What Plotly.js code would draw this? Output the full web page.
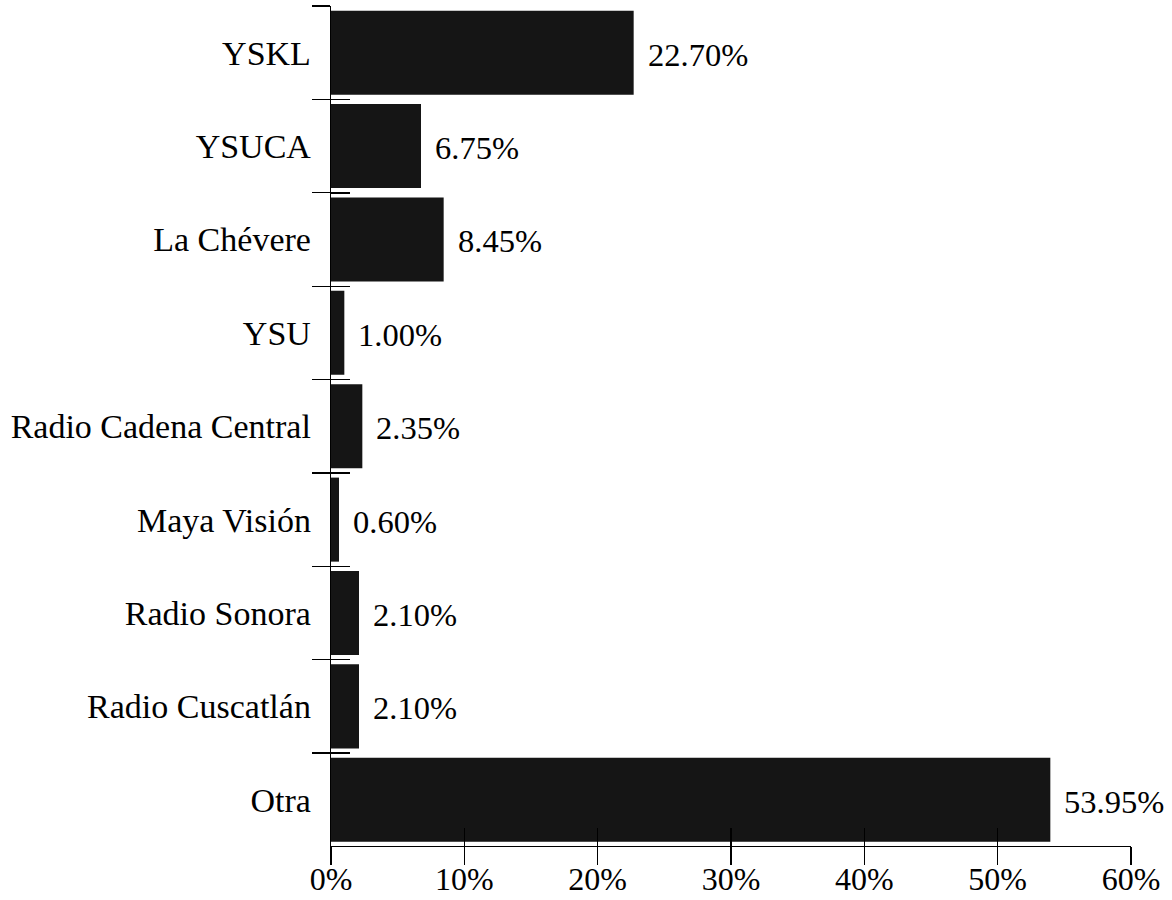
<!DOCTYPE html>
<html>
<head>
<meta charset="utf-8">
<script src="https://cdn.plot.ly/plotly-3.0.1.min.js"></script>
<style>html,body{margin:0;padding:0;background:#fff;}#chart{width:1172px;height:900px;}</style>
</head>
<body>
<div id="chart"></div>
<script>
const categories = ["YSKL", "YSUCA", "La Chévere", "YSU", "Radio Cadena Central", "Maya Visión", "Radio Sonora", "Radio Cuscatlán", "Otra"];
const values = [22.70, 6.75, 8.45, 1.00, 2.35, 0.60, 2.10, 2.10, 53.95];
const valueLabels = ["22.70%", "6.75%", "8.45%", "1.00%", "2.35%", "0.60%", "2.10%", "2.10%", "53.95%"];

const FAM = "Liberation Serif, Times New Roman, serif";
const FONT = {family: FAM, size: 32, color: "#000"};
const YFONT = {family: FAM, size: 34, color: "#000"};
const VFONT = {family: FAM, size: 32.5, color: "#000"};

const traces = [
  {
    type: "bar", orientation: "h",
    x: values, y: categories,
    marker: {color: "#151515", line: {width: 0}},
    width: 0.9,
    hoverinfo: "skip", showlegend: false
  },
  {
    type: "bar", orientation: "h",
    x: categories.map(() => 0), y: categories,
    xaxis: "x2", yaxis: "y2",
    marker: {color: "rgba(0,0,0,0)"},
    hoverinfo: "skip", showlegend: false
  }
];

const annotations = categories.map((c, i) => ({
  x: values[i], y: c, xref: "x", yref: "y",
  text: valueLabels[i], showarrow: false,
  xanchor: "left", yanchor: "middle", xshift: 12, yshift: -2,
  font: VFONT
}));

const yr = [8.495, -0.5];
const yr2 = [8.495, -0.503];

const layout = {
  width: 1172, height: 900,
  margin: {l: 331, r: 41, t: 6, b: 54},
  paper_bgcolor: "#fff", plot_bgcolor: "#fff",
  font: FONT,
  bargap: 0.1,
  showlegend: false,
  xaxis: {
    range: [0, 60], dtick: 10, tick0: 0, ticksuffix: "%",
    showgrid: false, zeroline: false,
    showline: true, linecolor: "#000", linewidth: 1.3,
    ticks: "outside", ticklen: 18, tickwidth: 1.3, tickcolor: "#000",
    tickfont: FONT, ticklabelstandoff: -14, fixedrange: true
  },
  xaxis2: {
    overlaying: "x", anchor: "y", side: "bottom",
    range: [0, 60], dtick: 10, tick0: 0,
    showgrid: false, zeroline: false, showline: false,
    ticks: "inside", ticklen: 18, tickwidth: 1.3, tickcolor: "#000",
    showticklabels: false, fixedrange: true
  },
  yaxis: {
    type: "category", categoryorder: "array", categoryarray: categories,
    range: yr,
    showgrid: false, zeroline: false,
    showline: true, linecolor: "#000", linewidth: 1.3,
    ticks: "outside", tickson: "boundaries", ticklen: 18, tickwidth: 1.3, tickcolor: "#000",
    tickfont: YFONT, ticklabelstandoff: 12, fixedrange: true
  },
  yaxis2: {
    overlaying: "y", anchor: "x", side: "left",
    type: "category", categoryorder: "array", categoryarray: categories,
    range: yr2,
    showgrid: false, zeroline: false, showline: false,
    ticks: "inside", tickson: "boundaries", ticklen: 19, tickwidth: 1.3, tickcolor: "#000",
    showticklabels: false, fixedrange: true
  },
  annotations: annotations
};

Plotly.newPlot("chart", traces, layout, {displayModeBar: false, staticPlot: true});
</script>
</body>
</html>
